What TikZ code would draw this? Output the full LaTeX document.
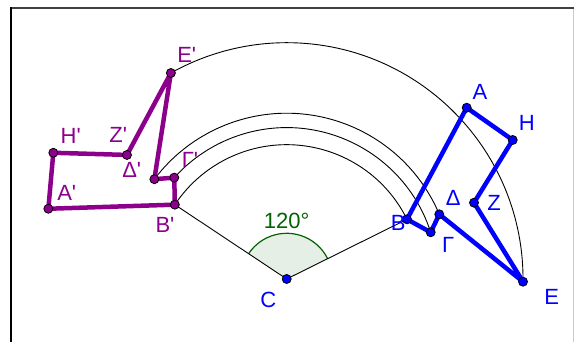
\documentclass[tikz,border=0pt]{standalone}
\usepackage{fontspec}
\setmainfont{Liberation Sans}
\usetikzlibrary{calc}
\definecolor{pur}{RGB}{140,0,140}
\definecolor{blu}{RGB}{0,0,255}
\definecolor{grn}{RGB}{0,100,0}
\definecolor{lgrn}{RGB}{229,239,229}
\newcommand{\pr}{\textquotesingle}
\begin{document}
\begin{tikzpicture}[x=1pt,y=1pt,
  poly/.style={line width=4.5pt, line join=round, line cap=round},
  arcl/.style={line width=0.9pt, black},
  dot/.style={circle, draw=black, line width=0.8pt, inner sep=0pt, minimum size=9pt},
  lbl/.style={font=\fontsize{22}{22}\selectfont, inner sep=0pt}]
\useasboundingbox (0,0) rectangle (574,342);
\fill[white] (0,0) rectangle (574,342);
% frame
\draw[line width=2pt, black!75] (10,333.5) -- (574,333.5);
\draw[line width=2pt, black] (11,334.5) -- (11,0);
\draw[line width=1pt, black!20] (573.5,333) -- (573.5,0);
% points
\coordinate (C) at (286.7,63);
\coordinate (A) at (466.7,234.3);
\coordinate (H) at (512.7,202);
\coordinate (Z) at (474,139.3);
\coordinate (E) at (523,60.3);
\coordinate (D) at (439.3,127.7);
\coordinate (G) at (430.7,109.7);
\coordinate (B) at (407,122.7);
\foreach \q in {A,H,Z,E,D,G,B}{
  \coordinate (\q p) at ($(C)!1!120:(\q)$);
}
% angle sector
\path let \p1=($(B)-(C)$), \n1={atan2(\y1,\x1)} in
  coordinate (s1) at ($(C)+(\n1:45.7pt)$);
\fill[lgrn] let \p1=($(B)-(C)$), \n1={atan2(\y1,\x1)} in
  (C) -- (s1) arc[start angle=\n1, delta angle=120, radius=45.7pt] -- cycle;
\draw[grn, line width=1.2pt] let \p1=($(B)-(C)$), \n1={atan2(\y1,\x1)} in
  (s1) arc[start angle=\n1, delta angle=120, radius=45.7pt];
% radii
\draw[arcl] (C) -- (B);
\draw[arcl] (C) -- (Bp);
% arcs
\foreach \q in {B,G,D,E}{
  \draw[arcl] let \p1=($(\q)-(C)$), \n1={atan2(\y1,\x1)}, \n2={veclen(\x1,\y1)} in
    (\q) arc[start angle=\n1, delta angle=120, radius=\n2];
}
% polygons
\draw[poly, blu] (A) -- (B) -- (G) -- (D) -- (E) -- (Z) -- (H) -- cycle;
\draw[poly, pur] (Ap) -- (Bp) -- (Gp) -- (Dp) -- (Ep) -- (Zp) -- (Hp) -- cycle;
% dots
\foreach \q in {A,H,Z,E,D,G,B,C}{
  \node[dot, fill=blu] (n\q) at (\q) {};
}
\foreach \q in {A,H,Z,E,D,G,B}{
  \node[dot, fill=pur] (n\q p) at (\q p) {};
}
% labels
\begin{scope}[every node/.style={lbl, text=blu}]
\node (lA) at (480,250.3) {A};
\node (lH) at (526.7,218.7) {H};
\node (lZ) at (494,139.3) {Z};
\node (lD) at (453.3,143.7) {Δ};
\node (lB) at (398.3,118.7) {B};
\node (lG) at (448.3,97) {Γ};
\node (lE) at (551.7,45.3) {E};
\node (lC) at (268.3,42) {C};
\end{scope}
\begin{scope}[every node/.style={lbl, text=pur}]
\node (lEp) at (186.7,287) {E\pr};
\node (lZp) at (118.3,207) {Z\pr};
\node (lHp) at (70.7,206) {H\pr};
\node (lAp) at (66.7,149.3) {A\pr};
\node (lBp) at (165,117) {B\pr};
\node (lGp) at (190,182) {Γ\pr};
\node (lDp) at (131.7,172) {Δ\pr};
\end{scope}
\node[lbl, text=grn] (ang) at (286.7,121) {120°};
\end{tikzpicture}
\end{document}
